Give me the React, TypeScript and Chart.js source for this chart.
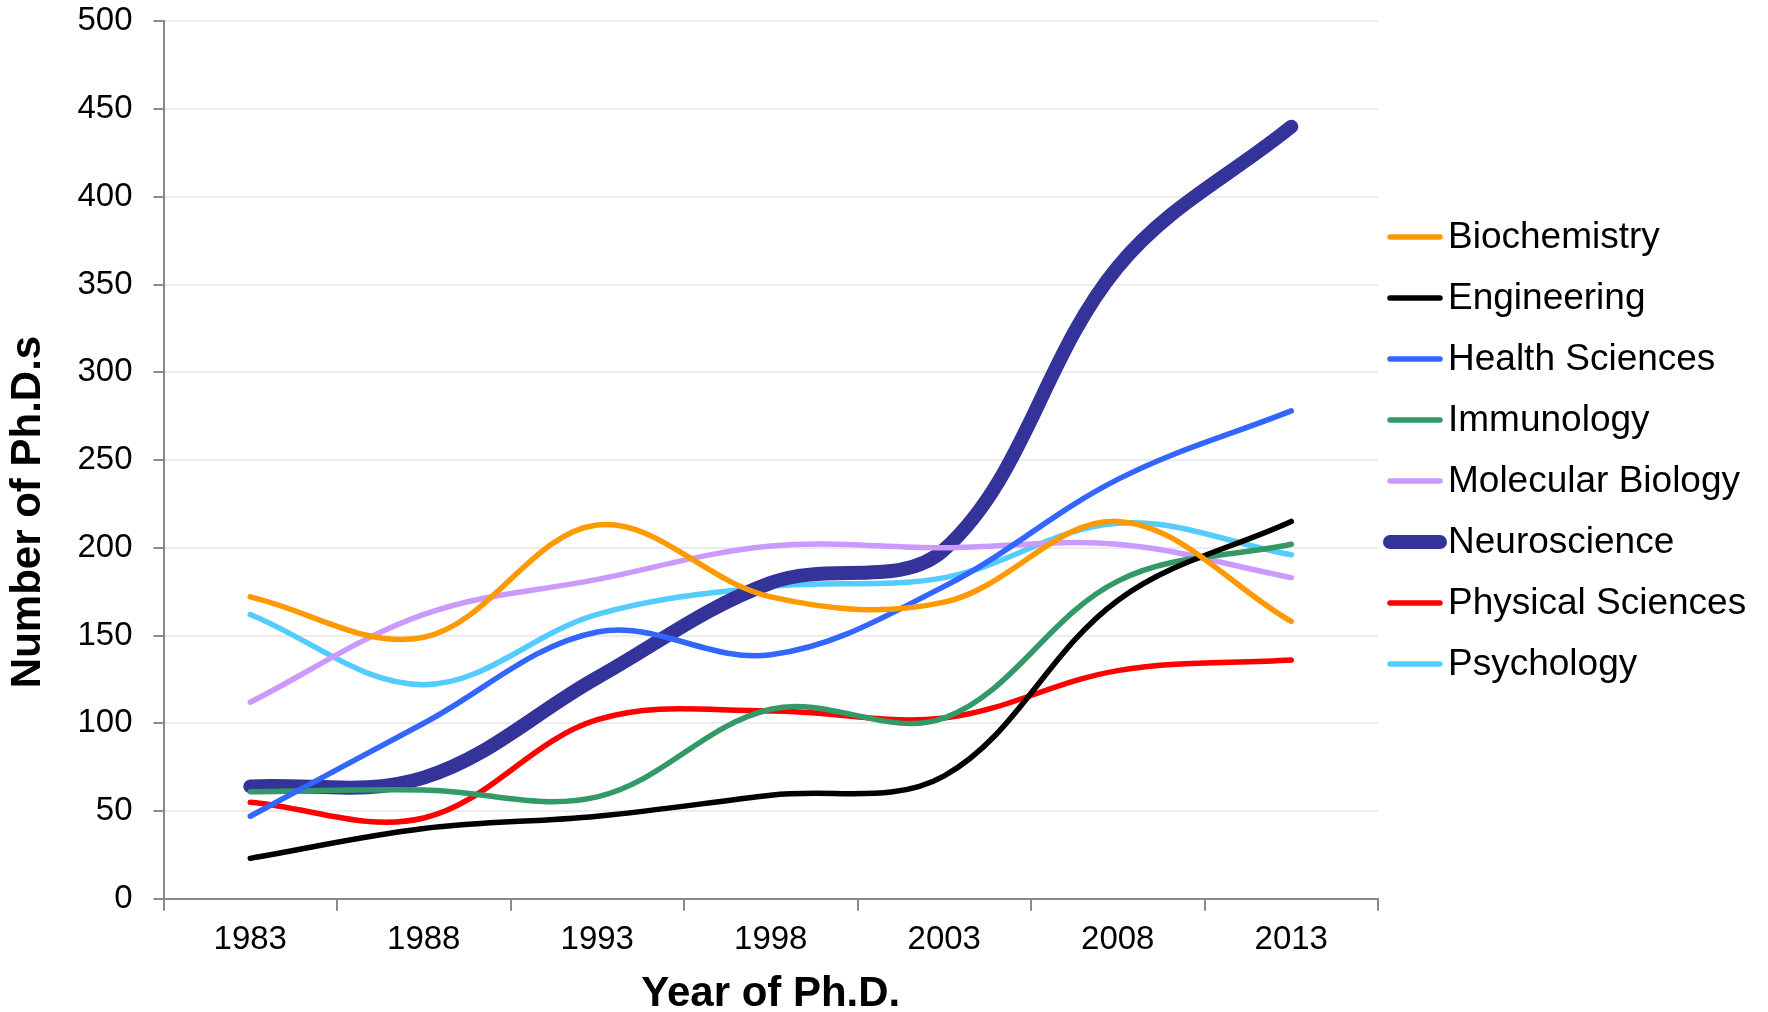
import React, { useEffect, useRef } from "react";
import { Chart, registerables } from "chart.js";

Chart.register(...registerables);

const years = ["1983", "1988", "1993", "1998", "2003", "2008", "2013"];
const biochemistry = [172, 149, 213, 172, 169, 215, 158];
const engineering = [23, 40, 47, 59, 70, 170, 215];
const healthSciences = [47, 100, 152, 139, 178, 239, 278];
const immunology = [61, 62, 58, 108, 103, 181, 202];
const molecularBiology = [112, 162, 182, 201, 200, 202, 183];
const neuroscience = [64, 69, 126, 180, 199, 360, 440];
const physicalSciences = [55, 46, 102, 107, 103, 130, 136];
const psychology = [162, 122, 162, 178, 183, 214, 196];

const yMin = 0;
const yMax = 500;
const yStep = 50;
const xTitle = "Year of Ph.D.";
const yTitle = "Number of Ph.D.s";

const FONT = '"Liberation Sans", Arial, Helvetica, sans-serif';

const W = 1768;
const H = 1012;

const titlesAndLegend = {
  id: "titlesAndLegend",
  afterDraw(chart: any) {
    const ctx = chart.ctx as CanvasRenderingContext2D;
    const area = chart.chartArea;
    ctx.save();
    // y axis title
    ctx.save();
    ctx.translate(28, chart.height / 2 + 6);
    ctx.rotate(-Math.PI / 2);
    ctx.font = `bold 42px ${FONT}`;
    ctx.fillStyle = "#000";
    ctx.textAlign = "center";
    ctx.textBaseline = "middle";
    ctx.fillText(yTitle, 0, 0);
    ctx.restore();
    // x axis title
    ctx.font = `bold 42px ${FONT}`;
    ctx.fillStyle = "#000";
    ctx.textAlign = "center";
    ctx.textBaseline = "middle";
    ctx.fillText(xTitle, (area.left + area.right) / 2, chart.height - 18);
    // legend
    const x0 = area.right + 12;
    const lineLen = 50;
    const top = 237;
    const step = 61;
    chart.data.datasets.forEach((ds: any, i: number) => {
      const y = top + i * step;
      ctx.beginPath();
      ctx.strokeStyle = ds.borderColor;
      ctx.lineWidth = ds.borderWidth;
      ctx.lineCap = "round";
      ctx.moveTo(x0, y);
      ctx.lineTo(x0 + lineLen, y);
      ctx.stroke();
      ctx.font = `37px ${FONT}`;
      ctx.fillStyle = "#000";
      ctx.textAlign = "left";
      ctx.textBaseline = "middle";
      ctx.fillText(ds.label, x0 + lineLen + 8, y + 1);
    });
    ctx.restore();
  },
};

export default function App() {
  const ref = useRef<HTMLCanvasElement | null>(null);

  useEffect(() => {
    if (!ref.current) return;
    const mk = (label: string, data: number[], color: string, width = 5.5) => ({
      label,
      data,
      borderColor: color,
      backgroundColor: color,
      borderWidth: width,
      borderCapStyle: "round" as const,
      borderJoinStyle: "round" as const,
      pointRadius: 0,
      pointHoverRadius: 0,
      tension: 0.36,
      fill: false,
    });
    const chart = new Chart(ref.current, {
      type: "line",
      data: {
        labels: years,
        datasets: [
          mk("Biochemistry", biochemistry, "#FF9900"),
          mk("Engineering", engineering, "#000000"),
          mk("Health Sciences", healthSciences, "#3366FF"),
          mk("Immunology", immunology, "#339966"),
          mk("Molecular Biology", molecularBiology, "#CC99FF"),
          mk("Neuroscience", neuroscience, "#333399", 14),
          mk("Physical Sciences", physicalSciences, "#FF0000"),
          mk("Psychology", psychology, "#55CCFF"),
        ],
      },
      options: {
        responsive: false,
        animation: false,
        devicePixelRatio: 1,
        layout: { padding: { top: 21.4, right: W - 1378, bottom: 0, left: 0 } },
        plugins: {
          legend: { display: false },
          tooltip: { enabled: false },
          title: { display: false },
        },
        scales: {
          x: {
            type: "category",
            offset: true,
            grid: {
              offset: true,
              drawOnChartArea: false,
              drawTicks: true,
              tickLength: 12,
              tickColor: "#8a8a8a",
              lineWidth: 2,
              color: "#8a8a8a",
            },
            border: { display: true, color: "#8a8a8a", width: 2 },
            ticks: {
              color: "#000",
              font: { family: FONT, size: 33 },
              padding: 9,
              maxRotation: 0,
              autoSkip: false,
            },
            afterFit(scale: any) {
              scale.height = H - 898.7;
              scale.paddingLeft = 0;
              scale.paddingRight = 0;
            },
          },
          y: {
            min: yMin,
            max: yMax,
            ticks: {
              stepSize: yStep,
              color: "#000",
              font: { family: FONT, size: 33 },
              padding: 21,
            },
            grid: {
              color: "#ececec",
              lineWidth: 2,
              tickLength: 10,
              tickColor: "#8a8a8a",
            },
            border: { display: true, color: "#8a8a8a", width: 2 },
            afterFit(scale: any) {
              scale.width = 163.5;
              scale.paddingTop = 0;
              scale.paddingBottom = 0;
            },
          },
        },
      },
      plugins: [titlesAndLegend],
    });
    return () => chart.destroy();
  }, []);

  return (
    <div style={{ position: "absolute", left: 0, top: 0, width: W, height: H, background: "#fff" }}>
      <canvas ref={ref} width={W} height={H} style={{ width: W, height: H, display: "block" }} />
    </div>
  );
}
